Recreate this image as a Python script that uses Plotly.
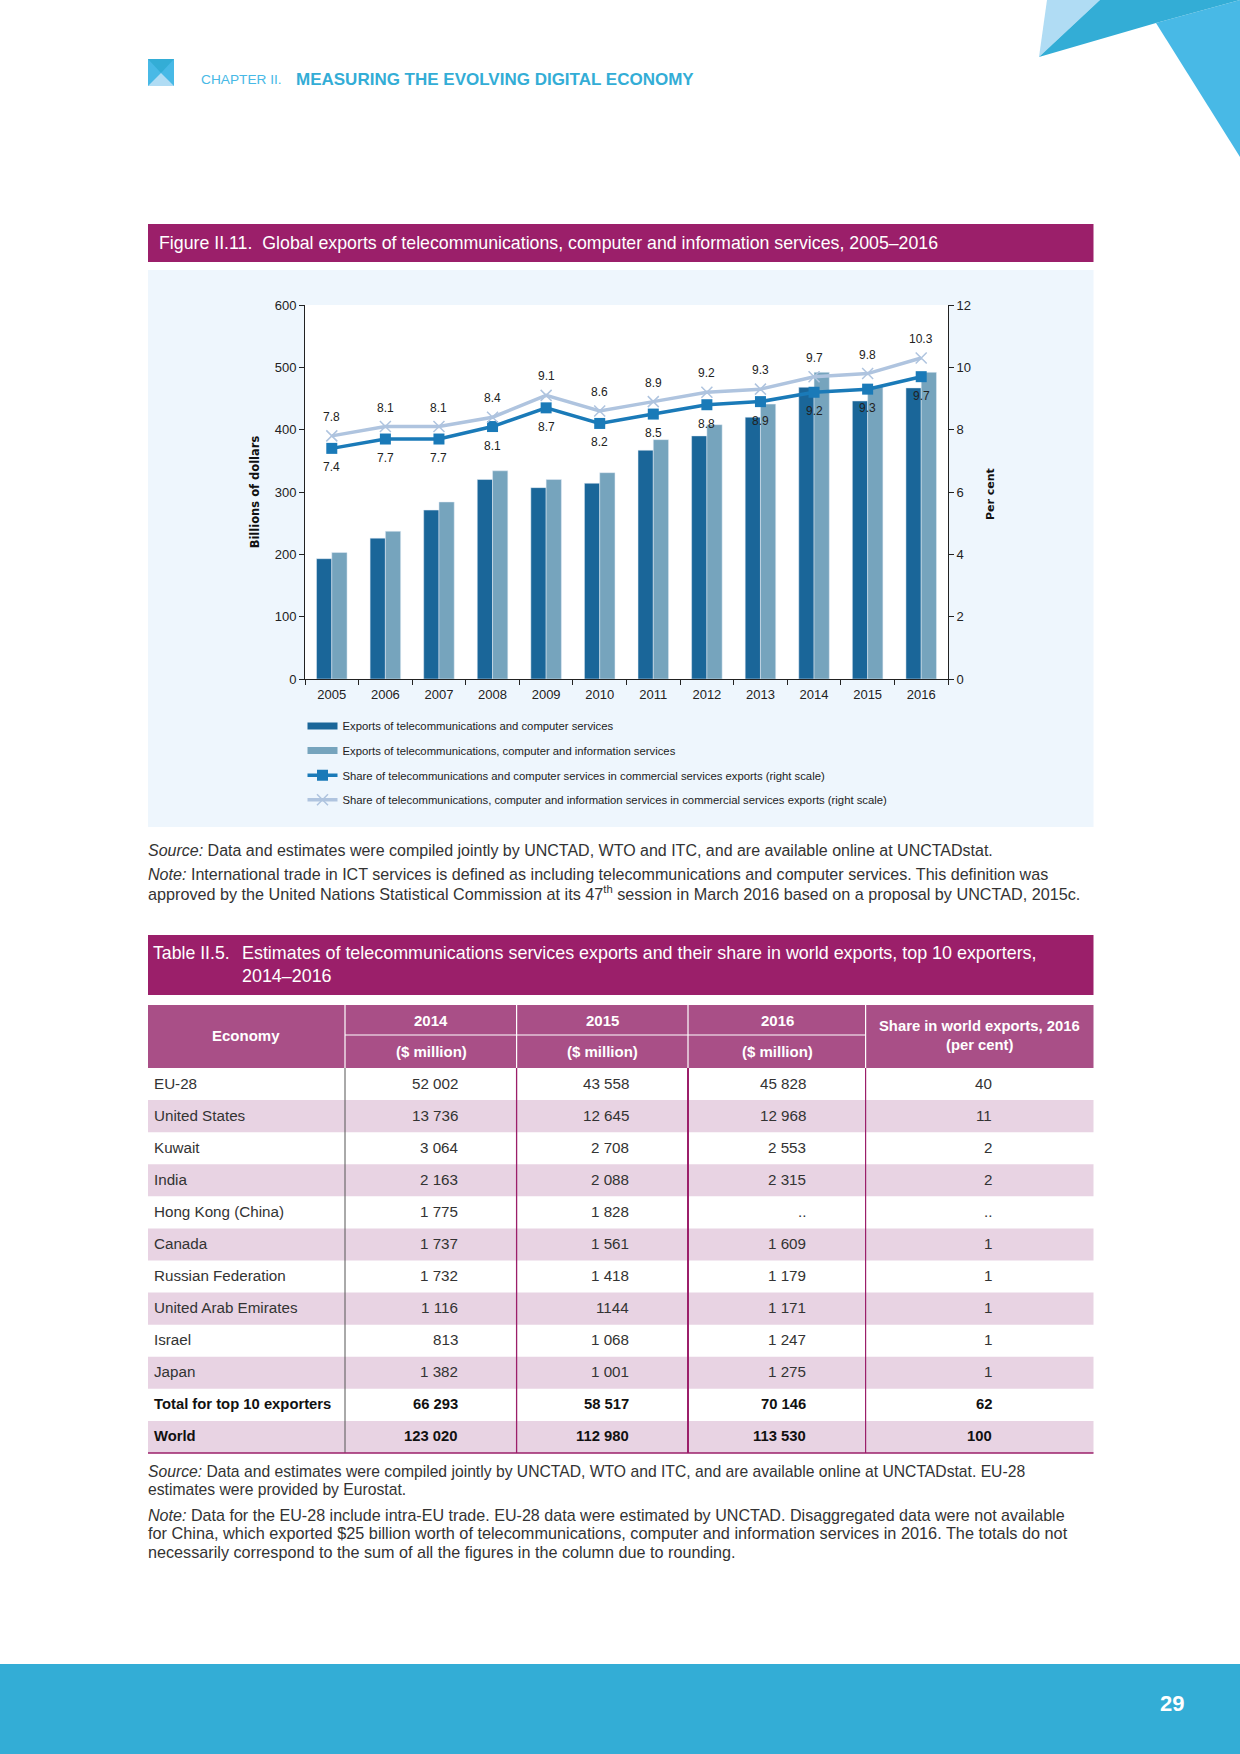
import plotly.graph_objects as go

# ---------- chart data ----------
years = [str(y) for y in range(2005, 2017)]
exports_tc = [193, 226, 271, 320, 307, 314, 367, 390, 420, 468, 446, 467]
exports_tci = [203, 237, 284, 334, 320, 331, 384, 408, 441, 492, 470, 492]
share_tc = [7.4, 7.7, 7.7, 8.1, 8.7, 8.2, 8.5, 8.8, 8.9, 9.2, 9.3, 9.7]
share_tci = [7.8, 8.1, 8.1, 8.4, 9.1, 8.6, 8.9, 9.2, 9.3, 9.7, 9.8, 10.3]

# ---------- table data ----------
economies = ["EU-28", "United States", "Kuwait", "India", "Hong Kong (China)", "Canada",
             "Russian Federation", "United Arab Emirates", "Israel", "Japan",
             "Total for top 10 exporters", "World"]
col_2014 = ["52 002", "13 736", "3 064", "2 163", "1 775", "1 737", "1 732", "1 116", "813", "1 382", "66 293", "123 020"]
col_2015 = ["43 558", "12 645", "2 708", "2 088", "1 828", "1 561", "1 418", "1144", "1 068", "1 001", "58 517", "112 980"]
col_2016 = ["45 828", "12 968", "2 553", "2 315", "..", "1 609", "1 179", "1 171", "1 247", "1 275", "70 146", "113 530"]
col_share = ["40", "11", "2", "2", "..", "1", "1", "1", "1", "1", "62", "100"]

W, H = 1240, 1754
SANS = "Liberation Sans, Arial, sans-serif"
PURPLE = "#9B1F6A"
HEAD = "#A94F87"
ALT = "#E8D3E3"
BLUE = "#33ADD6"
SKY = "#48B9E6"
PALE = "#B0DCF4"
DARK_BAR = "#1A6699"
LIGHT_BAR = "#76A4BD"

px = lambda x: x / W
py = lambda y: 1 - y / H
shapes, notes = [], []


def rect(x0, y0, x1, y1, color):
    shapes.append(dict(type="rect", xref="paper", yref="paper", x0=px(x0), x1=px(x1), y0=py(y0), y1=py(y1),
                       fillcolor=color, line=dict(width=0), layer="below"))


def poly(points, color):
    d = "M" + " L".join(f"{px(a):.5f},{py(b):.5f}" for a, b in points) + " Z"
    shapes.append(dict(type="path", xref="paper", yref="paper", path=d, fillcolor=color,
                       line=dict(width=0), layer="below"))


def vline(x, y0, y1, color, width=1):
    shapes.append(dict(type="line", xref="paper", yref="paper", x0=px(x), x1=px(x), y0=py(y0), y1=py(y1),
                       line=dict(color=color, width=width), layer="below"))


def hline(x0, x1, y, color, width=1):
    shapes.append(dict(type="line", xref="paper", yref="paper", x0=px(x0), x1=px(x1), y0=py(y), y1=py(y),
                       line=dict(color=color, width=width), layer="below"))


def text(x, y, s, size, color="#222222", family=SANS, anchor="left", angle=0):
    nudge = {"left": -2, "right": 2, "center": 0}[anchor]
    notes.append(dict(xref="paper", yref="paper", x=px(x + nudge), y=py(y), text=s, showarrow=False, xanchor=anchor,
                      yanchor="middle", textangle=angle, align=anchor,
                      font=dict(size=size, color=color, family=family)))


# page decoration
poly([(1047, 0), (1039, 57), (1100, 0)], PALE)
poly([(1156, 23), (1240, 0), (1240, 157)], SKY)
poly([(1100, 0), (1039, 57), (1156, 23), (1240, 0)], BLUE)
rect(148, 59, 174, 86, SKY)
poly([(148, 59), (174, 59), (161, 73)], BLUE)
poly([(148, 86), (174, 86), (161, 73)], PALE)
text(201, 80, "CHAPTER II.", 13.7, SKY)
text(296, 80, "<b>MEASURING THE EVOLVING DIGITAL ECONOMY</b>", 17, BLUE)
rect(0, 1664, W, H, BLUE)
text(1172, 1703, "<b>29</b>", 22, "#FFFFFF", SANS, "center")

# figure block
rect(148, 224, 1093.5, 262, PURPLE)
text(159, 243, "Figure II.11.  Global exports of telecommunications, computer and information services, 2005\u20132016",
     17.75, "#FFFFFF")
rect(148, 270, 1093.5, 827, "#EEF6FD")
rect(305, 305, 948, 679, "#FFFFFF")
text(991, 494, "<b>Per cent</b>", 11, "#111111", "DejaVu Sans", "center", -90)
text(148, 851, "<i>Source:</i> Data and estimates were compiled jointly by UNCTAD, WTO and ITC, and are available online at UNCTADstat.",
     16, "#333333")
text(148, 874, "<i>Note:</i> International trade in ICT services is defined as including telecommunications and computer services. This definition was",
     16.1, "#333333")
text(148, 893, "approved by the United Nations Statistical Commission at its 47<sup>th</sup> session in March 2016 based on a proposal by UNCTAD, 2015c.",
     16.2, "#333333")

# table title
rect(148, 935, 1093.5, 995, PURPLE)
text(153, 953, "Table II.5.", 17.7, "#FFFFFF")
text(242, 953, "Estimates of telecommunications services exports and their share in world exports, top 10 exporters,", 17.9, "#FFFFFF")
text(242, 976, "2014\u20132016", 17.9, "#FFFFFF")

# table header
TOP, SPLIT, BODY, ROW = 1005, 1035, 1068, 32.08
cols = [148, 345, 516.6, 688, 865.6, 1093.5]
rect(148, TOP, 1093.5, BODY, HEAD)
hline(345, 865.6, SPLIT, "#FFFFFF", 1.2)
for c in cols[1:5]:
    vline(c, TOP, BODY, "#FFFFFF", 1.2)
text(246, 1035, "<b>Economy</b>", 15, "#FFFFFF", SANS, "center")
for cx, yr in zip([431, 602, 777], ["2014", "2015", "2016"]):
    text(cx, 1020, f"<b>{yr}</b>", 15, "#FFFFFF", SANS, "center")
    text(cx, 1051, "<b>($ million)</b>", 15, "#FFFFFF", SANS, "center")
text(979, 1026, "<b>Share in world exports, 2016</b>", 14.8, "#FFFFFF", SANS, "center")
text(979, 1045, "<b>(per cent)</b>", 14.8, "#FFFFFF", SANS, "center")

# table body
for i, name in enumerate(economies):
    top = BODY + i * ROW
    mid = top + ROW / 2 - 1
    if i % 2:
        rect(148, top, 1093.5, top + ROW, ALT)
    wrap = (lambda s: f"<b>{s}</b>") if i >= 10 else (lambda s: s)
    ink = "#111111" if i >= 10 else "#333333"
    size = 14.8 if i >= 10 else 15.2
    text(154, mid, wrap(name), size, ink)
    text(458, mid, wrap(col_2014[i]), size, ink, SANS, "right")
    text(629, mid, wrap(col_2015[i]), size, ink, SANS, "right")
    text(806, mid, wrap(col_2016[i]), size, ink, SANS, "right")
    text(992, mid, wrap(col_share[i]), size, ink, SANS, "right")
END = BODY + 12 * ROW
vline(345, BODY, END, "#555555", 1)
vline(516.6, BODY, END, PURPLE, 1.3)
vline(688, BODY, END, PURPLE, 2)
vline(865.6, BODY, END, PURPLE, 1.2)
hline(148, 1093.5, END, PURPLE, 1.5)

text(148, 1471, "<i>Source:</i> Data and estimates were compiled jointly by UNCTAD, WTO and ITC, and are available online at UNCTADstat. EU-28",
     15.7, "#333333")
text(148, 1489, "estimates were provided by Eurostat.", 15.7, "#333333")
text(148, 1515, "<i>Note:</i> Data for the EU-28 include intra-EU trade. EU-28 data were estimated by UNCTAD. Disaggregated data were not available",
     16.1, "#333333")
text(148, 1533, "for China, which exported $25 billion worth of telecommunications, computer and information services in 2016. The totals do not",
     16.3, "#333333")
text(148, 1552, "necessarily correspond to the sum of all the figures in the column due to rounding.", 16.2, "#333333")

# line labels, positioned through the axes (category index on x, right-hand scale on y)
for i, (a, b) in enumerate(zip(share_tc, share_tci)):
    for val, shift in ((a, -19), (b, 19)):
        notes.append(dict(xref="x", yref="y2", x=i, y=val, yshift=shift, text=f"{val:.1f}", showarrow=False,
                          xanchor="center", yanchor="middle", font=dict(size=12, color="#222222", family=SANS)))

NAME_A = "Exports of telecommunications and computer services"
NAME_B = "Exports of telecommunications, computer and information services"

fig = go.Figure()
fig.add_bar(x=years, y=exports_tc, name=NAME_A, marker_color=DARK_BAR, legendgroup="a", showlegend=False)
fig.add_bar(x=years, y=exports_tci, name=NAME_B, marker_color=LIGHT_BAR, legendgroup="b", showlegend=False)
# legend keys for the bars: wide flat swatches, as in the original key
fig.add_scatter(x=[None], y=[None], mode="lines", name=NAME_A, legendgroup="a", line=dict(color=DARK_BAR, width=7))
fig.add_scatter(x=[None], y=[None], mode="lines", name=NAME_B, legendgroup="b", line=dict(color=LIGHT_BAR, width=7))
fig.add_scatter(x=years, y=share_tc, yaxis="y2", mode="lines+markers", legendgroup="c",
                name="Share of telecommunications and computer services in commercial services exports (right scale)",
                line=dict(color="#1A7AB8", width=3.5), marker=dict(symbol="square", size=11, color="#1A7AB8"))
fig.add_scatter(x=years, y=share_tci, yaxis="y2", mode="lines+markers", legendgroup="d",
                name="Share of telecommunications, computer and information services in commercial services exports (right scale)",
                line=dict(color="#AFC4DF", width=3.5),
                marker=dict(symbol="x-thin", size=11, color="#AFC4DF", line=dict(color="#AFC4DF", width=1.5)))

axis_font = dict(size=13, color="#222222", family=SANS)
fig.update_layout(
    width=W, height=H, margin=dict(l=0, r=0, t=0, b=0, autoexpand=False), autosize=False,
    paper_bgcolor="#FFFFFF", plot_bgcolor="#FFFFFF",
    barmode="group", bargap=0.43, bargroupgap=0,
    shapes=shapes, annotations=notes,
    xaxis=dict(domain=[px(305), px(948)], type="category", categoryorder="array", categoryarray=years,
               range=[-0.5, 11.5], tickson="boundaries", ticks="outside", ticklen=5, ticklabelstandoff=3,
               tickangle=0, tickcolor="#222222", showline=True, linecolor="#222222", linewidth=1, showgrid=False,
               tickfont=axis_font),
    yaxis=dict(domain=[py(679), py(305)], range=[0, 600], dtick=100, ticks="outside", ticklen=5,
               tickcolor="#222222", showline=True, linecolor="#222222", linewidth=1, showgrid=False, zeroline=False,
               tickfont=axis_font,
               title=dict(text="<b>Billions of dollars</b>", standoff=12,
                          font=dict(size=11.5, color="#111111", family="DejaVu Sans"))),
    yaxis2=dict(overlaying="y", side="right", range=[0, 12], dtick=2, ticks="outside", ticklen=5,
                tickcolor="#222222", showline=True, linecolor="#222222", linewidth=1, showgrid=False, zeroline=False,
                tickfont=axis_font),
    showlegend=True,
    legend=dict(x=px(302.5), y=py(711.5), xanchor="left", yanchor="top", bgcolor="rgba(0,0,0,0)", tracegroupgap=5.6,
                itemwidth=30, traceorder="grouped", font=dict(size=11.3, color="#222222", family=SANS)),
)
fig.write_html("out.html", config={"displayModeBar": False},
               post_script="document.body.style.margin='0';document.body.style.overflow='hidden';")
